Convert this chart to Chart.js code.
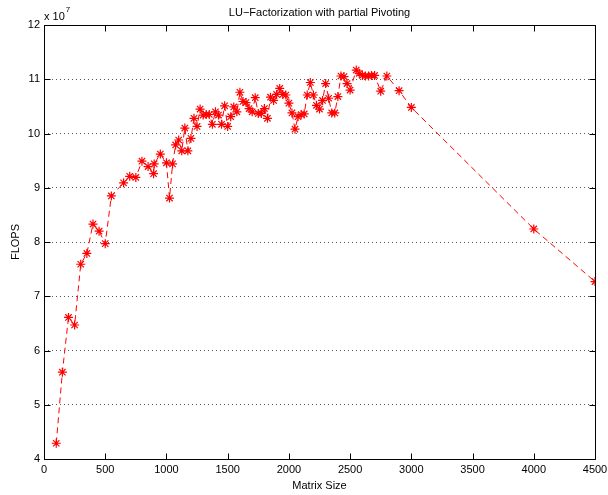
<!DOCTYPE html>
<html>
<head>
<meta charset="utf-8">
<script src="https://cdn.jsdelivr.net/npm/chart.js@4.4.1/dist/chart.umd.min.js"></script>
<style>
  html, body { margin: 0; padding: 0; background: #fff; }
  #wrap { width: 608px; height: 495px; }
</style>
</head>
<body>
<div id="wrap"><canvas id="c" width="608" height="495"></canvas></div>
<script>
// Data (FLOPS in units of 1e7)
const matrixSize = [100,150,200,250,300,350,400,450,500,550,650,700,750,800,850,895,900,950,1000,1025,1050,1075,1100,1125,1150,1175,1200,1225,1250,1275,1300,1325,1350,1375,1400,1425,1450,1475,1500,1525,1550,1575,1600,1625,1650,1675,1700,1725,1750,1775,1800,1825,1850,1875,1900,1925,1950,1975,2000,2025,2050,2075,2100,2125,2150,2175,2200,2225,2250,2275,2300,2325,2350,2375,2400,2425,2450,2475,2500,2550,2575,2600,2625,2650,2675,2700,2750,2800,2900,3000,4000,4500];
const flops = [4.29,5.60,6.61,6.47,7.59,7.79,8.33,8.20,7.97,8.85,9.09,9.21,9.19,9.49,9.39,9.26,9.44,9.62,9.46,8.81,9.44,9.79,9.88,9.68,10.10,9.68,9.91,10.28,10.13,10.45,10.34,10.35,10.35,10.17,10.40,10.34,10.17,10.51,10.13,10.31,10.49,10.40,10.76,10.59,10.57,10.46,10.40,10.66,10.37,10.37,10.46,10.28,10.67,10.61,10.72,10.83,10.72,10.71,10.56,10.38,10.08,10.31,10.35,10.36,10.71,10.94,10.71,10.52,10.45,10.61,10.92,10.65,10.38,10.38,10.68,11.06,11.05,10.92,10.80,11.17,11.11,11.07,11.06,11.06,11.07,11.07,10.78,11.06,10.79,10.48,8.24,7.27];
const xTicks = [0,500,1000,1500,2000,2500,3000,3500,4000,4500];
const yTicks = [4,5,6,7,8,9,10,11,12];
const titleText = "LU\u2212Factorization with partial Pivoting";
const xLabel = "Matrix Size";
const yLabel = "FLOPS";
const expBase = "x 10";
const expPow = "7";

const FONT = "'Liberation Sans', Arial, Helvetica, sans-serif";
const points = matrixSize.map((x, i) => ({ x: x, y: flops[i] }));

const matlabBox = {
  id: 'matlabBox',
  afterDraw(chart) {
    const ctx = chart.ctx;
    const a = chart.chartArea;
    const xs = chart.scales.x, ys = chart.scales.y;
    ctx.save();
    ctx.strokeStyle = '#000';
    ctx.lineWidth = 1;
    ctx.beginPath();
    const L = Math.round(a.left) + 0.5, R = Math.round(a.right) + 0.5;
    const T = Math.round(a.top) + 0.5, B = Math.round(a.bottom) + 0.5;
    ctx.rect(L, T, R - L, B - T);
    ctx.stroke();
    const tl = 6;
    ctx.beginPath();
    xTicks.forEach(v => {
      const px = Math.round(xs.getPixelForValue(v)) + 0.5;
      ctx.moveTo(px, B); ctx.lineTo(px, B - tl);
      ctx.moveTo(px, T); ctx.lineTo(px, T + tl);
    });
    yTicks.forEach(v => {
      const py = Math.round(ys.getPixelForValue(v)) + 0.5;
      ctx.moveTo(L, py); ctx.lineTo(L + tl, py);
      ctx.moveTo(R, py); ctx.lineTo(R - tl, py);
    });
    ctx.stroke();
    // Title
    ctx.fillStyle = '#000';
    ctx.font = '11px ' + FONT;
    ctx.textAlign = 'center';
    ctx.textBaseline = 'alphabetic';
    ctx.fillText(titleText, (a.left + a.right) / 2, 16);
    // exponent label
    ctx.textAlign = 'left';
    ctx.font = '11px ' + FONT;
    ctx.fillText(expBase, a.left, 20);
    const w = ctx.measureText(expBase).width;
    ctx.font = '8px ' + FONT;
    ctx.fillText(expPow, a.left + w + 1, 12);
    ctx.restore();
  }
};

new Chart(document.getElementById('c'), {
  type: 'scatter',
  data: {
    datasets: [{
      data: points,
      showLine: true,
      borderColor: '#ff0000',
      borderWidth: 1,
      borderDash: [6, 4],
      pointStyle: 'star',
      pointRadius: 4.5,
      pointBorderColor: '#ff0000',
      pointBackgroundColor: '#ff0000',
      pointBorderWidth: 1.2,
      tension: 0
    }]
  },
  options: {
    responsive: false,
    animation: false,
    events: [],
    layout: { padding: { left: 0, right: 13, top: 25, bottom: 0 } },
    plugins: {
      legend: { display: false },
      tooltip: { enabled: false },
      title: { display: false }
    },
    scales: {
      x: {
        type: 'linear',
        min: 0, max: 4500,
        afterBuildTicks: s => { s.ticks = xTicks.map(v => ({ value: v })); },
        afterFit: s => { s.height = 36; s.paddingLeft = 0; s.paddingRight = 0; },
        grid: { display: false, drawTicks: false },
        border: { display: false },
        ticks: { color: '#000', padding: 4, font: { family: FONT, size: 11 }, maxRotation: 0,
                 callback: v => String(v) },
        title: { display: true, text: xLabel, color: '#000', font: { family: FONT, size: 11 }, padding: { top: 0, bottom: 2 } }
      },
      y: {
        type: 'linear',
        min: 4, max: 12,
        afterBuildTicks: s => { s.ticks = yTicks.map(v => ({ value: v })); },
        afterFit: s => { s.width = 44; s.paddingTop = 0; s.paddingBottom = 0; },
        grid: { display: true, drawTicks: false, color: 'rgba(0,0,0,0.65)', lineWidth: 1 },
        border: { display: false, dash: [1, 3] },
        ticks: { color: '#000', padding: 4, font: { family: FONT, size: 11 }, callback: v => String(v) },
        title: { display: true, text: yLabel, color: '#000', font: { family: FONT, size: 11 }, padding: { top: 9, bottom: 0 } }
      }
    }
  },
  plugins: [matlabBox]
});
</script>
</body>
</html>
